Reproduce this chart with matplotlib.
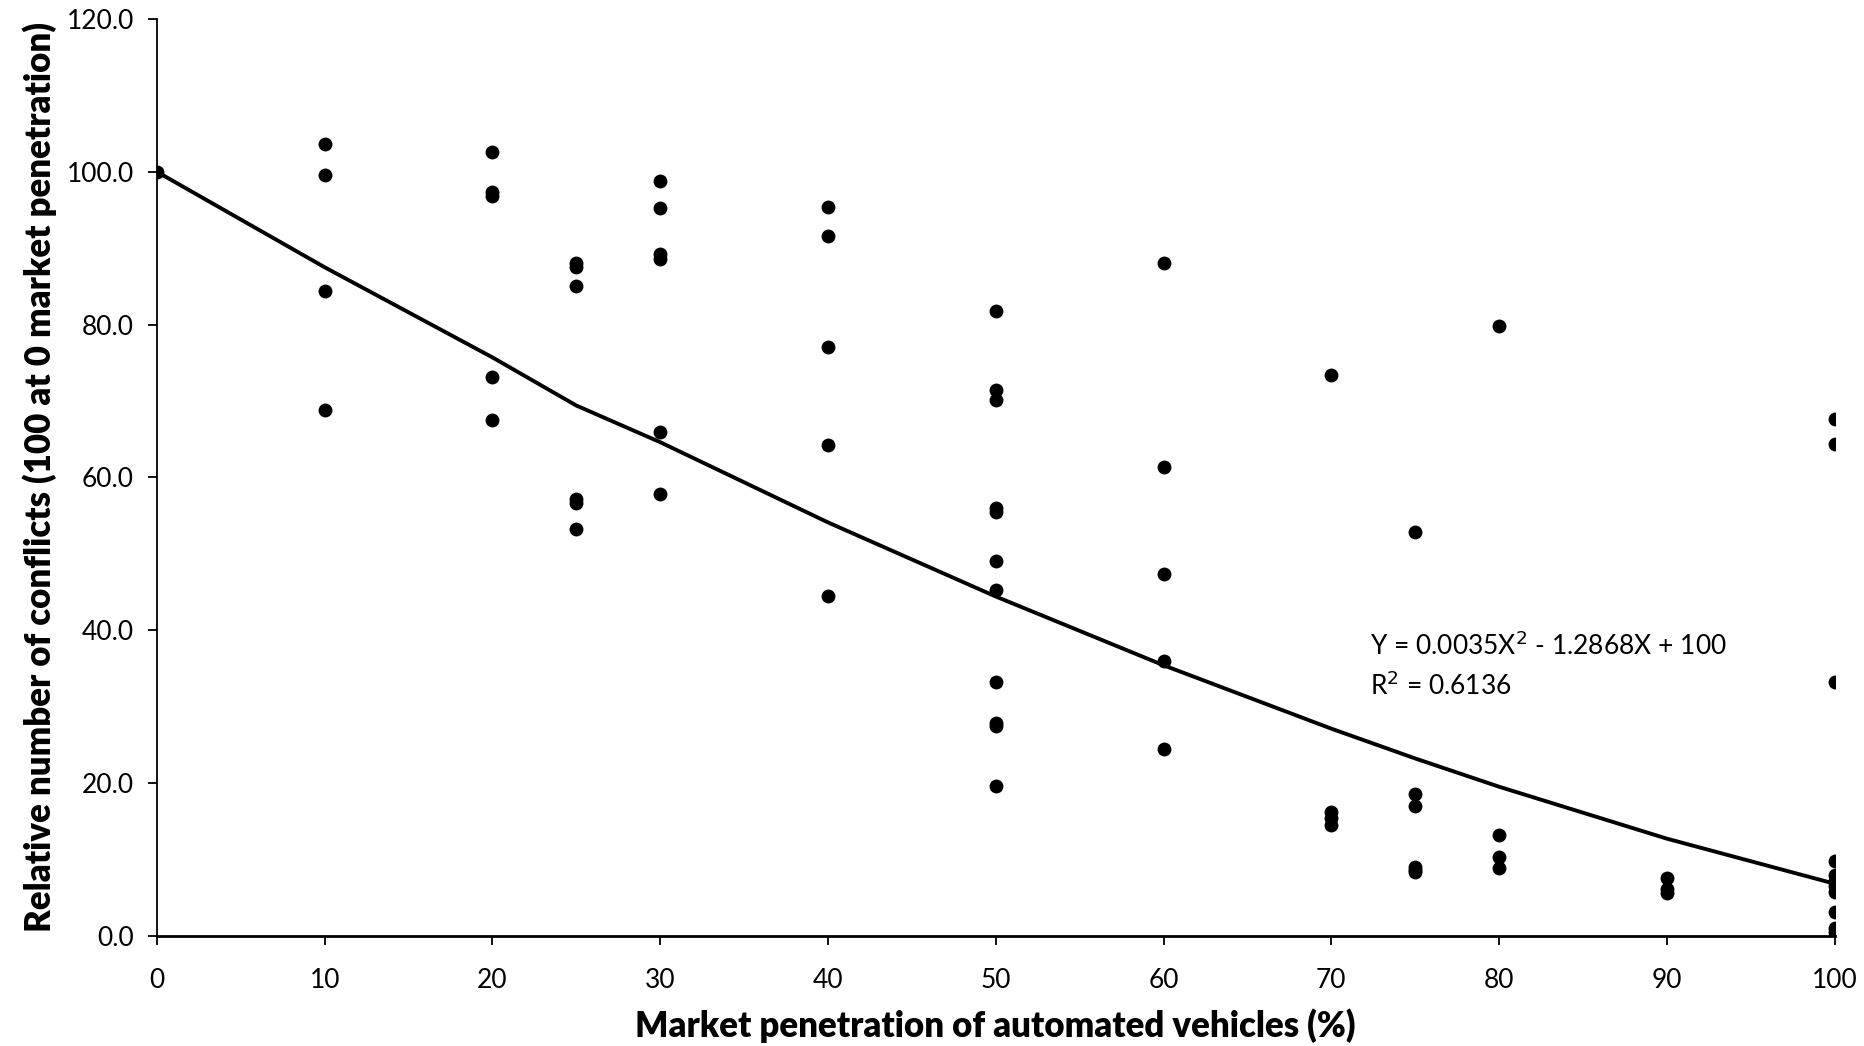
import matplotlib.pyplot as plt
import numpy as np

plt.rcParams['font.family'] = ['Lato', 'DejaVu Sans']

# market penetration (%) and relative number of conflicts
pen = [0,
       10, 10, 10, 10,
       20, 20, 20, 20, 20,
       25, 25, 25, 25, 25, 25,
       30, 30, 30, 30, 30, 30,
       40, 40, 40, 40, 40,
       50, 50, 50, 50, 50, 50, 50, 50, 50, 50, 50,
       60, 60, 60, 60, 60,
       70, 70, 70, 70,
       75, 75, 75, 75, 75, 75,
       80, 80, 80, 80,
       90, 90, 90,
       100, 100, 100, 100, 100, 100, 100, 100, 100, 100, 100]
conflicts = [100.0,
             103.6, 99.6, 84.4, 68.8,
             102.6, 97.4, 96.8, 73.1, 67.5,
             88.0, 87.6, 85.0, 57.2, 56.7, 53.2,
             98.8, 95.2, 89.3, 88.6, 66.0, 57.8,
             95.4, 91.6, 77.0, 64.2, 44.5,
             81.8, 71.5, 70.1, 56.0, 55.5, 49.0, 45.2, 33.2, 27.8, 27.4, 19.6,
             88.0, 61.3, 47.3, 36.0, 24.5,
             73.4, 16.2, 15.4, 14.5,
             52.9, 18.5, 17.0, 9.0, 8.6, 8.3,
             79.8, 13.2, 10.3, 8.8,
             7.5, 6.1, 5.6,
             67.7, 64.4, 33.2, 9.8, 8.0, 7.2, 6.5, 5.7, 3.1, 1.0, 0.5]

# polynomial trendline, read at the measured penetration levels
trend_x = [0, 10, 20, 25, 30, 40, 50, 60, 70, 75, 80, 90, 100]
trend_y = [100.0, 87.5, 75.7, 69.4, 64.6, 54.1, 44.4, 35.4, 27.1, 23.2, 19.5, 12.7, 6.8]

fig = plt.figure(figsize=(18.64, 10.46), dpi=100)
ax = fig.add_axes([0.0842, 0.1055, 0.9, 0.8763])

ax.plot(trend_x, trend_y, color='black', lw=2.8, zorder=2)
ax.scatter(pen, conflicts, s=100, color='black', zorder=3, linewidths=0)

ax.set_xlim(0, 100)
ax.set_ylim(0, 120)
ax.set_xticks(np.arange(0, 101, 10))
ax.set_yticks(np.arange(0, 121, 20))
ax.set_yticklabels(['%.1f' % v for v in np.arange(0, 121, 20)])
ax.tick_params(axis='both', labelsize=19, direction='out', length=6.5, width=1.3,
               color='black')
ax.tick_params(axis='y', pad=10)
ax.tick_params(axis='x', pad=17)

for s in ['top', 'right']:
    ax.spines[s].set_visible(False)
for s in ['left', 'bottom']:
    ax.spines[s].set_linewidth(1.3)
ax.spines['bottom'].set_linewidth(2)

ax.set_xlabel('Market penetration of automated vehicles (%)', fontsize=25,
              fontweight='heavy', labelpad=11)
ax.set_ylabel('Relative number of conflicts (100 at 0 market penetration)',
              fontsize=25, fontweight='heavy', labelpad=7)

ax.text(72.3, 38.0, 'Y = 0.0035X$^2$ - 1.2868X + 100', fontsize=19, va='center')
ax.text(72.3, 32.7, 'R$^2$ = 0.6136', fontsize=19, va='center')

fig.savefig('out.png', dpi=100)
